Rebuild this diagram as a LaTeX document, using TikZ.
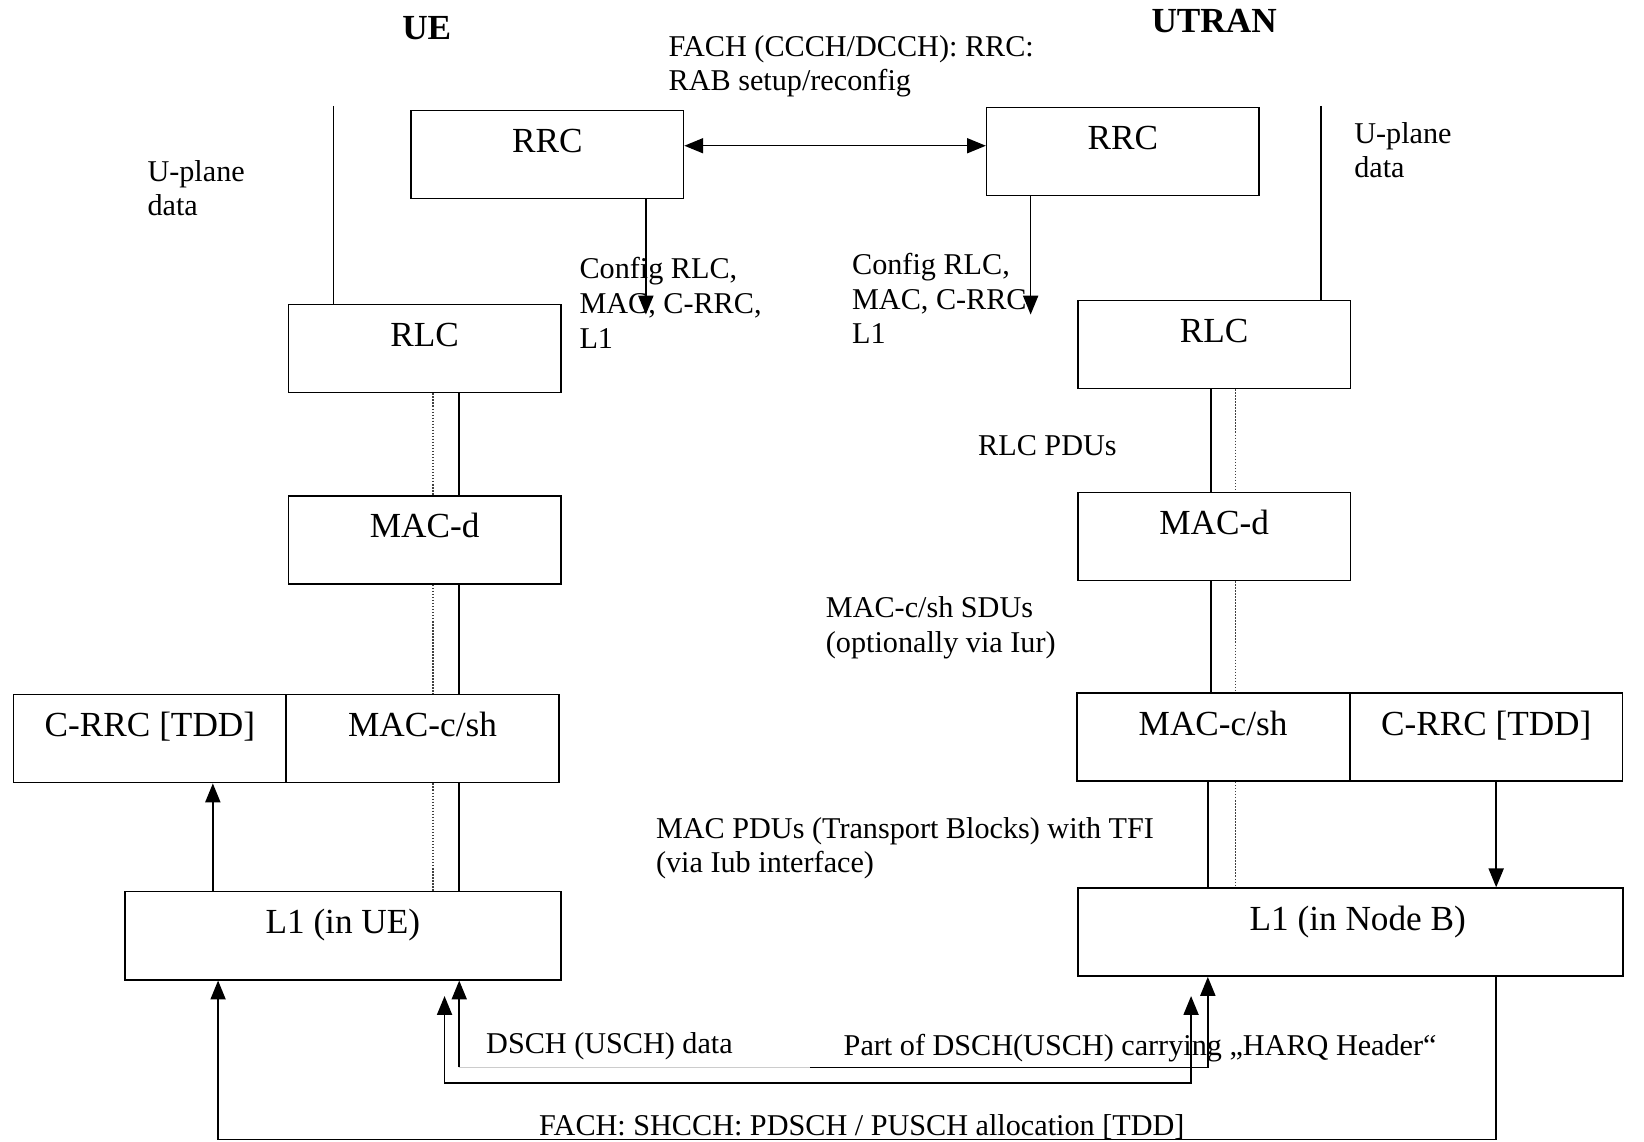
\documentclass[tikz,border=0pt]{standalone}
\usepackage{fontspec}
\setmainfont{Liberation Serif}
\usetikzlibrary{arrows.meta}

\tikzset{every picture/.style={line width=0.6pt}}
\tikzset{
  layer/.style={draw, rectangle, minimum width=108.33pt, minimum height=35pt,
    text height=10pt, text depth=11.6pt, font=\fontsize{14}{16}\selectfont},
  note/.style={inner sep=0pt, align=left, yshift=-1.2pt, font=\fontsize{12}{13.75}\selectfont},
  title/.style={inner sep=0pt, font=\bfseries\fontsize{14}{16}\selectfont},
  sap/.style={line width=0.45pt, draw=black!75, dash pattern=on 0.6pt off 0.6pt},
  tip/.style={-{Triangle[length=7.5pt,width=6pt]}},
  bitip/.style={{Triangle[length=7.5pt,width=6pt]}-{Triangle[length=7.5pt,width=6pt]}},
}

\begin{document}
\begin{tikzpicture}[x=0.41667pt,y=0.41667pt,yscale=-1,xscale=1]
	\path[use as bounding box] (0,0) rectangle (1568,1089);

	%Shape: Rectangle (UE side)
	\node[layer] (rrcUE) at (522,147.5) {RRC};
	\node[layer] (rlcUE) at (405,332.5) {RLC};
	\node[layer] (macdUE) at (405,515) {MAC-d};
	\node[layer] (crrcUE) at (143,704.5) {C-RRC [TDD]};
	\node[layer] (macshUE) at (403,704.5) {MAC-c/sh};
	\node[layer, minimum width=173.33pt] (l1UE) at (327,892.5) {L1 (in UE)};
	%Shape: Rectangle (UTRAN side)
	\node[layer] (rrcUT) at (1071,144.5) {RRC};
	\node[layer] (rlcUT) at (1158,328.5) {RLC};
	\node[layer] (macdUT) at (1158,511.5) {MAC-d};
	\node[layer] (macshUT) at (1157,703) {MAC-c/sh};
	\node[layer] (crrcUT) at (1417.5,703) {C-RRC [TDD]};
	\node[layer, minimum width=216.67pt] (l1UT) at (1288,889) {\hspace*{5.8pt}L1 (in Node B)};

	% Text Node
	\node[title] (ueTitle) at (407,27) {UE};
	% Text Node
	\node[title] (utranTitle) at (1158,20) {UTRAN};
	% Text Node
	\node[note, anchor=west] (rrcMsg) at (637,60.5) {FACH (CCCH/DCCH): RRC:\\RAB setup/reconfig};
	% Text Node
	\node[note, anchor=west] (upUEtxt) at (140,176.5) {U-plane\\data};
	% Text Node
	\node[note, anchor=west] (upUTtxt) at (1291,140.5) {U-plane\\data};
	% Text Node
	\node[note, anchor=west] (cfgUEtxt) at (552,286) {Config RLC,\\MAC, C-RRC,\\L1};
	% Text Node
	\node[note, anchor=west] (cfgUTtxt) at (812,282) {Config RLC,\\MAC, C-RRC\\L1};
	% Text Node
	\node[note] (rlcPdu) at (999,422) {RLC PDUs};
	% Text Node
	\node[note, anchor=west] (sduTxt) at (787,596) {MAC-c/sh SDUs\\(optionally via Iur)};
	% Text Node
	\node[note, anchor=west] (pduTxt) at (625,806) {MAC PDUs (Transport Blocks) with TFI\\(via Iub interface)};
	% Text Node
	\node[note, anchor=west] (dschTxt) at (463,995) {DSCH (USCH) data};
	% Text Node
	\node[note, anchor=west] (harqTxt) at (804,997) {Part of DSCH(USCH) carrying „HARQ Header“};
	% Text Node
	\node[note] (fachTxt) at (822,1072) {FACH: SHCCH: PDSCH / PUSCH allocation [TDD]};

	%Straight Lines (RRC peer link and configuration)
	\coordinate (rrcLink) at (0,139);
	\draw[bitip] (rrcUE.east |- rrcLink) -- (rrcUT.west |- rrcLink);
	\coordinate (cfgUE) at (616,300);
	\draw[tip] (rrcUE.south -| cfgUE) -- (cfgUE);
	\coordinate (cfgUT) at (983,300);
	\draw[tip] (rrcUT.south -| cfgUT) -- (cfgUT);

	%Straight Lines (U-plane data)
	\coordinate (upUE) at (318,101);
	\draw (upUE) -- (rlcUE.north -| upUE);
	\coordinate (upUT) at (1260,101);
	\draw (upUT) -- (rlcUT.north -| upUT);

	%Straight Lines (UE stack)
	\coordinate (sUE) at (438,0);
	\coordinate (dUE) at (413,0);
	\foreach \a/\b in {rlcUE/macdUE, macdUE/macshUE, macshUE/l1UE} {
		\draw (\a.south -| sUE) -- (\b.north -| sUE);
		\draw[sap] (\a.south -| dUE) -- (\b.north -| dUE);
	}
	%Straight Lines (UTRAN stack)
	\coordinate (dUT) at (1178,0);
	\foreach \a/\b/\x in {rlcUT/macdUT/1155, macdUT/macshUT/1155, macshUT/l1UT/1152} {
		\coordinate (sUT) at (\x,0);
		\draw (\a.south -| sUT) -- (\b.north -| sUT);
		\draw[sap] (\a.south -| dUT) -- (\b.north -| dUT);
	}

	%Straight Lines (C-RRC)
	\coordinate (crUE) at (203,0);
	\draw[tip] (l1UE.north -| crUE) -- (crrcUE.south -| crUE);
	\coordinate (crUT) at (1427,0);
	\draw[tip] (crrcUT.south -| crUT) -- (l1UT.north -| crUT);

	%Straight Lines (FACH: SHCCH)
	\coordinate (fachL) at (208,1087);
	\coordinate (fachR) at (1427,1087);
	\draw[tip] (l1UT.south -| fachR) -- (fachR) -- (fachL) -- (l1UE.south -| fachL);

	%Straight Lines (DSCH data)
	\coordinate (dschTop) at (0,950);
	\coordinate (dschL) at (424,1033);
	\coordinate (dschR) at (1136,1033);
	\draw[bitip] (dschL |- dschTop) -- (dschL) -- (dschR) -- (dschR |- dschTop);

	%Straight Lines (HARQ header part)
	\coordinate (harqL) at (438,1018);
	\coordinate (harqM) at (773,1018);
	\coordinate (harqR) at (1152,1018);
	\draw[black!20] (harqL) -- (harqM);
	\draw[tip] (harqL) -- (l1UE.south -| harqL);
	\draw[tip] (harqM) -- (harqR) -- (l1UT.south -| harqR);

\end{tikzpicture}
\end{document}
